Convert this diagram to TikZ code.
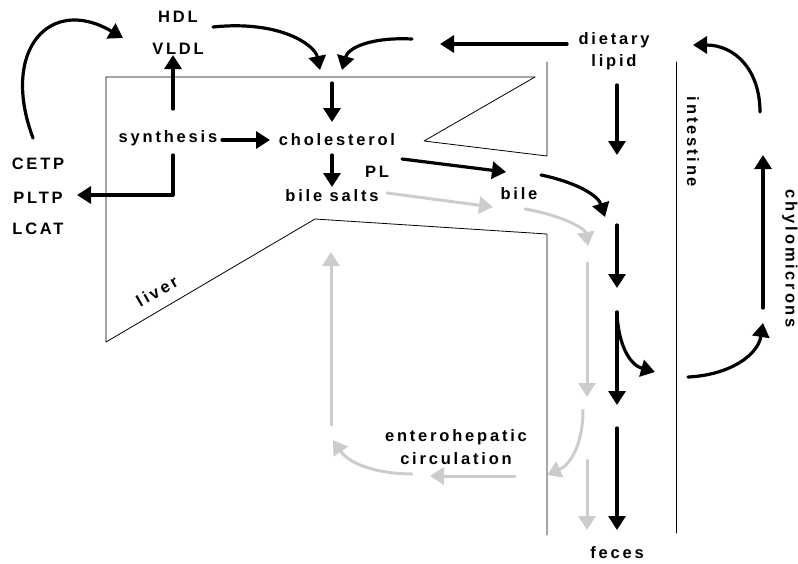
\documentclass[tikz,border=0pt]{standalone}
\usepackage{fontspec}
\newfontfamily\lblfont[LetterSpace=17]{Liberation Sans}
\usetikzlibrary{arrows.meta}

\begin{document}
\begin{tikzpicture}[line cap=round, line join=round, x=1pt, y=-1pt,
    lbl/.style={font=\lblfont\bfseries\fontsize{16.5}{22.5}\selectfont, inner sep=0pt, align=center},
    flow/.style={line width=3.2pt, -{Triangle[length=14pt,width=17pt]}},
    back/.style={flow, draw=gray!40, line width=3pt},
    wall/.style={line width=0.8pt}]
    \useasboundingbox (0,0) rectangle (798,563);

    % walls of liver and intestine
    \draw[wall] (535,77) -- (106,77) -- (106,342) -- (315,219) -- (547,234) -- (547,535);
    \draw[wall] (535,77) -- (424,141) -- (547,156) -- (547,62);
    \draw[wall] (676,62) -- (676,533);

    % labels
    \node[lbl] (hdl) at (178,17) {HDL};
    \node[lbl] (vldl) at (178,49) {VLDL};
    \node[lbl] (cetp) at (38,164) {CETP};
    \node[lbl] (pltp) at (38,198) {PLTP};
    \node[lbl] (lcat) at (38,229) {LCAT};
    \node[lbl] (synth) at (168,138) {synthesis};
    \node[lbl] (chol) at (337,140) {cholesterol};
    \node[lbl] (pl) at (377,172) {PL};
    \node[lbl] (salts) at (332,196) {bile salts};
    \node[lbl] (bile) at (519,194) {bile};
    \node[lbl] (diet) at (614,51) {dietary\\lipid};
    \node[lbl, rotate=-90] (intest) at (693,142) {intestine};
    \node[lbl, rotate=-90] (chylo) at (790,259) {chylomicrons};
    \node[lbl, rotate=30] (liver) at (157,291) {liver};
    \node[lbl] (entero) at (456,447) {enterohepatic\\circulation};
    \node[lbl] (feces) at (617,553) {feces};

    % into the liver
    \draw[flow] (213,27) .. controls (280,20) and (315,45) .. (320,70);
    \draw[flow] (412,39) .. controls (370,37) and (348,48) .. (342,70);
    \draw[flow] (567,44) -- (440,44);
    \draw[flow] (332,83) -- (332,122);
    \draw[flow] (33,138) .. controls (0,50) and (50,-5) .. (123,38);

    % inside the liver
    \draw[flow] (222,140) -- (270,140);
    \draw[flow] (173,109) -- (173,55);
    \draw[flow] (173,155) -- (173,195) -- (77,195);
    \draw[flow] (332,155) -- (332,187);
    \draw[flow] (402,159) -- (506,172);
    \draw[flow] (541,175) .. controls (575,182) and (598,195) .. (605,217);

    % down the intestine
    \draw[flow] (617,85) -- (617,155);
    \draw[flow] (617,225) -- (617,288);
    \draw[flow] (617,312) -- (617,405);
    \draw[flow] (617,312) .. controls (618,345) and (630,365) .. (655,372);
    \draw[flow] (617,428) -- (617,530);

    % chylomicrons
    \draw[flow] (688,377) .. controls (730,375) and (758,355) .. (763,323);
    \draw[flow] (763,308) -- (763,155);
    \draw[flow] (760,112) .. controls (760,70) and (735,45) .. (693,45);

    % enterohepatic circulation
    \draw[back] (387,193) -- (493,207);
    \draw[back] (525,209) .. controls (560,215) and (585,228) .. (588,246);
    \draw[back] (587,263) -- (587,397);
    \draw[back] (583,410) .. controls (583,445) and (570,465) .. (547,475);
    \draw[back] (515,476) -- (430,476);
    \draw[back] (412,474) .. controls (380,474) and (350,465) .. (333,440);
    \draw[back] (331,425) -- (331,252);
    \draw[back] (587,460) -- (587,530);
\end{tikzpicture}
\end{document}
